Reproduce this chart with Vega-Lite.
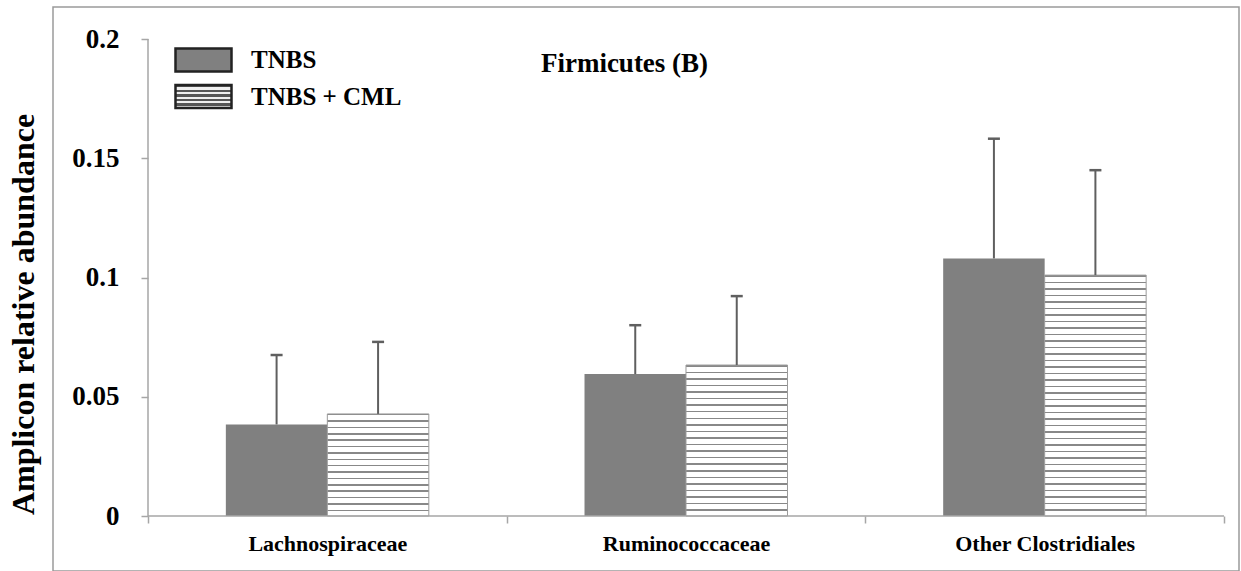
{
  "$schema": "https://vega.github.io/schema/vega-lite/v6.json",
  "width": 1186,
  "height": 564,
  "autosize": {"type": "none"},
  "padding": {"left": 53, "top": 7, "right": 2, "bottom": 0},
  "background": "#ffffff",
  "title": {
    "text": "Firmicutes (B)",
    "font": "Liberation Serif",
    "fontWeight": "bold",
    "fontSize": 27,
    "color": "#000000",
    "anchor": "middle",
    "baseline": "alphabetic",
    "offset": 0,
    "dx": -21.5,
    "dy": 92
  },
  "data": {
    "values": [
      {"cat": "Lachnospiraceae", "group": "TNBS", "value": 0.0384, "hi": 0.0675},
      {"cat": "Lachnospiraceae", "group": "TNBS + CML", "value": 0.0428, "hi": 0.0730},
      {"cat": "Ruminococcaceae", "group": "TNBS", "value": 0.0595, "hi": 0.0800},
      {"cat": "Ruminococcaceae", "group": "TNBS + CML", "value": 0.0633, "hi": 0.0922},
      {"cat": "Other Clostridiales", "group": "TNBS", "value": 0.1080, "hi": 0.1582},
      {"cat": "Other Clostridiales", "group": "TNBS + CML", "value": 0.1010, "hi": 0.1450}
    ]
  },
  "layer": [
    {
      "mark": {"type": "bar"},
      "encoding": {
        "x": {
          "field": "cat",
          "type": "nominal",
          "sort": ["Lachnospiraceae", "Ruminococcaceae", "Other Clostridiales"],
          "scale": {
            "domain": ["Lachnospiraceae", "Ruminococcaceae", "Other Clostridiales"],
            "paddingInner": 0,
            "paddingOuter": 0.15335,
            "align": 0.8636
          },
          "axis": {
            "title": null,
            "offset": -55,
            "domain": false,
            "labelAngle": 0,
            "labelLimit": 0,
            "labelFont": "Liberation Serif",
            "labelFontWeight": "bold",
            "labelFontSize": 22,
            "labelColor": "#000000",
            "labelPadding": 10,
            "tickBand": "extent",
            "tickSize": 7,
            "tickColor": "#a6a6a6",
            "tickWidth": 1.5
          }
        },
        "xOffset": {
          "field": "group",
          "type": "nominal",
          "sort": ["TNBS", "TNBS + CML"],
          "scale": {"paddingInner": 0, "paddingOuter": 0.767}
        },
        "y": {
          "field": "value",
          "type": "quantitative",
          "scale": {"domain": [-0.02306, 0.21342], "nice": false, "zero": false},
          "axis": {
            "values": [0, 0.05, 0.1, 0.15, 0.2],
            "format": "~g",
            "grid": false,
            "offset": -95,
            "domain": false,
            "title": "Amplicon relative abundance",
            "titleFont": "Liberation Serif",
            "titleFontWeight": "bold",
            "titleFontSize": 32,
            "titleColor": "#000000",
            "titleAngle": -90,
            "titleX": -115,
            "titleY": 307,
            "titleAlign": "center",
            "titleBaseline": "alphabetic",
            "labelFont": "Liberation Serif",
            "labelFontWeight": "bold",
            "labelFontSize": 27,
            "labelColor": "#000000",
            "labelPadding": 22,
            "tickSize": 7,
            "tickColor": "#a6a6a6",
            "tickWidth": 1.5
          }
        },
        "fill": {
          "condition": [
            {
              "test": "datum.group === 'TNBS + CML' && datum.cat === 'Lachnospiraceae'",
              "value": {
                "gradient": "linear", "x1": 0, "y1": 0, "x2": 0, "y2": 1,
                "stops": [
                  {"offset": 0, "color": "#888888"}, {"offset": 0.015, "color": "#888888"}, {"offset": 0.015, "color": "#ffffff"}, {"offset": 0.0625, "color": "#ffffff"},
                  {"offset": 0.0625, "color": "#888888"}, {"offset": 0.0775, "color": "#888888"}, {"offset": 0.0775, "color": "#ffffff"}, {"offset": 0.125, "color": "#ffffff"},
                  {"offset": 0.125, "color": "#888888"}, {"offset": 0.14, "color": "#888888"}, {"offset": 0.14, "color": "#ffffff"}, {"offset": 0.1875, "color": "#ffffff"},
                  {"offset": 0.1875, "color": "#888888"}, {"offset": 0.2025, "color": "#888888"}, {"offset": 0.2025, "color": "#ffffff"}, {"offset": 0.25, "color": "#ffffff"},
                  {"offset": 0.25, "color": "#888888"}, {"offset": 0.265, "color": "#888888"}, {"offset": 0.265, "color": "#ffffff"}, {"offset": 0.3125, "color": "#ffffff"},
                  {"offset": 0.3125, "color": "#888888"}, {"offset": 0.3275, "color": "#888888"}, {"offset": 0.3275, "color": "#ffffff"}, {"offset": 0.375, "color": "#ffffff"},
                  {"offset": 0.375, "color": "#888888"}, {"offset": 0.39, "color": "#888888"}, {"offset": 0.39, "color": "#ffffff"}, {"offset": 0.4375, "color": "#ffffff"},
                  {"offset": 0.4375, "color": "#888888"}, {"offset": 0.4525, "color": "#888888"}, {"offset": 0.4525, "color": "#ffffff"}, {"offset": 0.5, "color": "#ffffff"},
                  {"offset": 0.5, "color": "#888888"}, {"offset": 0.515, "color": "#888888"}, {"offset": 0.515, "color": "#ffffff"}, {"offset": 0.5625, "color": "#ffffff"},
                  {"offset": 0.5625, "color": "#888888"}, {"offset": 0.5775, "color": "#888888"}, {"offset": 0.5775, "color": "#ffffff"}, {"offset": 0.625, "color": "#ffffff"},
                  {"offset": 0.625, "color": "#888888"}, {"offset": 0.64, "color": "#888888"}, {"offset": 0.64, "color": "#ffffff"}, {"offset": 0.6875, "color": "#ffffff"},
                  {"offset": 0.6875, "color": "#888888"}, {"offset": 0.7025, "color": "#888888"}, {"offset": 0.7025, "color": "#ffffff"}, {"offset": 0.75, "color": "#ffffff"},
                  {"offset": 0.75, "color": "#888888"}, {"offset": 0.765, "color": "#888888"}, {"offset": 0.765, "color": "#ffffff"}, {"offset": 0.8125, "color": "#ffffff"},
                  {"offset": 0.8125, "color": "#888888"}, {"offset": 0.8275, "color": "#888888"}, {"offset": 0.8275, "color": "#ffffff"}, {"offset": 0.875, "color": "#ffffff"},
                  {"offset": 0.875, "color": "#888888"}, {"offset": 0.89, "color": "#888888"}, {"offset": 0.89, "color": "#ffffff"}, {"offset": 0.9375, "color": "#ffffff"},
                  {"offset": 0.9375, "color": "#888888"}, {"offset": 0.9525, "color": "#888888"}, {"offset": 0.9525, "color": "#ffffff"}, {"offset": 1, "color": "#ffffff"}
                ]
              }
            },
            {
              "test": "datum.group === 'TNBS + CML' && datum.cat === 'Ruminococcaceae'",
              "value": {
                "gradient": "linear", "x1": 0, "y1": 0, "x2": 0, "y2": 1,
                "stops": [
                  {"offset": 0, "color": "#888888"}, {"offset": 0.01, "color": "#888888"}, {"offset": 0.01, "color": "#ffffff"}, {"offset": 0.0435, "color": "#ffffff"},
                  {"offset": 0.0435, "color": "#888888"}, {"offset": 0.0535, "color": "#888888"}, {"offset": 0.0535, "color": "#ffffff"}, {"offset": 0.087, "color": "#ffffff"},
                  {"offset": 0.087, "color": "#888888"}, {"offset": 0.097, "color": "#888888"}, {"offset": 0.097, "color": "#ffffff"}, {"offset": 0.1304, "color": "#ffffff"},
                  {"offset": 0.1304, "color": "#888888"}, {"offset": 0.1404, "color": "#888888"}, {"offset": 0.1404, "color": "#ffffff"}, {"offset": 0.1739, "color": "#ffffff"},
                  {"offset": 0.1739, "color": "#888888"}, {"offset": 0.1839, "color": "#888888"}, {"offset": 0.1839, "color": "#ffffff"}, {"offset": 0.2174, "color": "#ffffff"},
                  {"offset": 0.2174, "color": "#888888"}, {"offset": 0.2274, "color": "#888888"}, {"offset": 0.2274, "color": "#ffffff"}, {"offset": 0.2609, "color": "#ffffff"},
                  {"offset": 0.2609, "color": "#888888"}, {"offset": 0.2709, "color": "#888888"}, {"offset": 0.2709, "color": "#ffffff"}, {"offset": 0.3043, "color": "#ffffff"},
                  {"offset": 0.3043, "color": "#888888"}, {"offset": 0.3143, "color": "#888888"}, {"offset": 0.3143, "color": "#ffffff"}, {"offset": 0.3478, "color": "#ffffff"},
                  {"offset": 0.3478, "color": "#888888"}, {"offset": 0.3578, "color": "#888888"}, {"offset": 0.3578, "color": "#ffffff"}, {"offset": 0.3913, "color": "#ffffff"},
                  {"offset": 0.3913, "color": "#888888"}, {"offset": 0.4013, "color": "#888888"}, {"offset": 0.4013, "color": "#ffffff"}, {"offset": 0.4348, "color": "#ffffff"},
                  {"offset": 0.4348, "color": "#888888"}, {"offset": 0.4448, "color": "#888888"}, {"offset": 0.4448, "color": "#ffffff"}, {"offset": 0.4783, "color": "#ffffff"},
                  {"offset": 0.4783, "color": "#888888"}, {"offset": 0.4883, "color": "#888888"}, {"offset": 0.4883, "color": "#ffffff"}, {"offset": 0.5217, "color": "#ffffff"},
                  {"offset": 0.5217, "color": "#888888"}, {"offset": 0.5317, "color": "#888888"}, {"offset": 0.5317, "color": "#ffffff"}, {"offset": 0.5652, "color": "#ffffff"},
                  {"offset": 0.5652, "color": "#888888"}, {"offset": 0.5752, "color": "#888888"}, {"offset": 0.5752, "color": "#ffffff"}, {"offset": 0.6087, "color": "#ffffff"},
                  {"offset": 0.6087, "color": "#888888"}, {"offset": 0.6187, "color": "#888888"}, {"offset": 0.6187, "color": "#ffffff"}, {"offset": 0.6522, "color": "#ffffff"},
                  {"offset": 0.6522, "color": "#888888"}, {"offset": 0.6622, "color": "#888888"}, {"offset": 0.6622, "color": "#ffffff"}, {"offset": 0.6957, "color": "#ffffff"},
                  {"offset": 0.6957, "color": "#888888"}, {"offset": 0.7057, "color": "#888888"}, {"offset": 0.7057, "color": "#ffffff"}, {"offset": 0.7391, "color": "#ffffff"},
                  {"offset": 0.7391, "color": "#888888"}, {"offset": 0.7491, "color": "#888888"}, {"offset": 0.7491, "color": "#ffffff"}, {"offset": 0.7826, "color": "#ffffff"},
                  {"offset": 0.7826, "color": "#888888"}, {"offset": 0.7926, "color": "#888888"}, {"offset": 0.7926, "color": "#ffffff"}, {"offset": 0.8261, "color": "#ffffff"},
                  {"offset": 0.8261, "color": "#888888"}, {"offset": 0.8361, "color": "#888888"}, {"offset": 0.8361, "color": "#ffffff"}, {"offset": 0.8696, "color": "#ffffff"},
                  {"offset": 0.8696, "color": "#888888"}, {"offset": 0.8796, "color": "#888888"}, {"offset": 0.8796, "color": "#ffffff"}, {"offset": 0.913, "color": "#ffffff"},
                  {"offset": 0.913, "color": "#888888"}, {"offset": 0.923, "color": "#888888"}, {"offset": 0.923, "color": "#ffffff"}, {"offset": 0.9565, "color": "#ffffff"},
                  {"offset": 0.9565, "color": "#888888"}, {"offset": 0.9665, "color": "#888888"}, {"offset": 0.9665, "color": "#ffffff"}, {"offset": 1, "color": "#ffffff"}
                ]
              }
            },
            {
              "test": "datum.group === 'TNBS + CML' && datum.cat === 'Other Clostridiales'",
              "value": {
                "gradient": "linear", "x1": 0, "y1": 0, "x2": 0, "y2": 1,
                "stops": [
                  {"offset": 0, "color": "#888888"}, {"offset": 0.0062, "color": "#888888"}, {"offset": 0.0062, "color": "#ffffff"}, {"offset": 0.027, "color": "#ffffff"},
                  {"offset": 0.027, "color": "#888888"}, {"offset": 0.0332, "color": "#888888"}, {"offset": 0.0332, "color": "#ffffff"}, {"offset": 0.0541, "color": "#ffffff"},
                  {"offset": 0.0541, "color": "#888888"}, {"offset": 0.0603, "color": "#888888"}, {"offset": 0.0603, "color": "#ffffff"}, {"offset": 0.0811, "color": "#ffffff"},
                  {"offset": 0.0811, "color": "#888888"}, {"offset": 0.0873, "color": "#888888"}, {"offset": 0.0873, "color": "#ffffff"}, {"offset": 0.1081, "color": "#ffffff"},
                  {"offset": 0.1081, "color": "#888888"}, {"offset": 0.1143, "color": "#888888"}, {"offset": 0.1143, "color": "#ffffff"}, {"offset": 0.1351, "color": "#ffffff"},
                  {"offset": 0.1351, "color": "#888888"}, {"offset": 0.1413, "color": "#888888"}, {"offset": 0.1413, "color": "#ffffff"}, {"offset": 0.1622, "color": "#ffffff"},
                  {"offset": 0.1622, "color": "#888888"}, {"offset": 0.1684, "color": "#888888"}, {"offset": 0.1684, "color": "#ffffff"}, {"offset": 0.1892, "color": "#ffffff"},
                  {"offset": 0.1892, "color": "#888888"}, {"offset": 0.1954, "color": "#888888"}, {"offset": 0.1954, "color": "#ffffff"}, {"offset": 0.2162, "color": "#ffffff"},
                  {"offset": 0.2162, "color": "#888888"}, {"offset": 0.2224, "color": "#888888"}, {"offset": 0.2224, "color": "#ffffff"}, {"offset": 0.2432, "color": "#ffffff"},
                  {"offset": 0.2432, "color": "#888888"}, {"offset": 0.2494, "color": "#888888"}, {"offset": 0.2494, "color": "#ffffff"}, {"offset": 0.2703, "color": "#ffffff"},
                  {"offset": 0.2703, "color": "#888888"}, {"offset": 0.2765, "color": "#888888"}, {"offset": 0.2765, "color": "#ffffff"}, {"offset": 0.2973, "color": "#ffffff"},
                  {"offset": 0.2973, "color": "#888888"}, {"offset": 0.3035, "color": "#888888"}, {"offset": 0.3035, "color": "#ffffff"}, {"offset": 0.3243, "color": "#ffffff"},
                  {"offset": 0.3243, "color": "#888888"}, {"offset": 0.3305, "color": "#888888"}, {"offset": 0.3305, "color": "#ffffff"}, {"offset": 0.3514, "color": "#ffffff"},
                  {"offset": 0.3514, "color": "#888888"}, {"offset": 0.3576, "color": "#888888"}, {"offset": 0.3576, "color": "#ffffff"}, {"offset": 0.3784, "color": "#ffffff"},
                  {"offset": 0.3784, "color": "#888888"}, {"offset": 0.3846, "color": "#888888"}, {"offset": 0.3846, "color": "#ffffff"}, {"offset": 0.4054, "color": "#ffffff"},
                  {"offset": 0.4054, "color": "#888888"}, {"offset": 0.4116, "color": "#888888"}, {"offset": 0.4116, "color": "#ffffff"}, {"offset": 0.4324, "color": "#ffffff"},
                  {"offset": 0.4324, "color": "#888888"}, {"offset": 0.4386, "color": "#888888"}, {"offset": 0.4386, "color": "#ffffff"}, {"offset": 0.4595, "color": "#ffffff"},
                  {"offset": 0.4595, "color": "#888888"}, {"offset": 0.4657, "color": "#888888"}, {"offset": 0.4657, "color": "#ffffff"}, {"offset": 0.4865, "color": "#ffffff"},
                  {"offset": 0.4865, "color": "#888888"}, {"offset": 0.4927, "color": "#888888"}, {"offset": 0.4927, "color": "#ffffff"}, {"offset": 0.5135, "color": "#ffffff"},
                  {"offset": 0.5135, "color": "#888888"}, {"offset": 0.5197, "color": "#888888"}, {"offset": 0.5197, "color": "#ffffff"}, {"offset": 0.5405, "color": "#ffffff"},
                  {"offset": 0.5405, "color": "#888888"}, {"offset": 0.5467, "color": "#888888"}, {"offset": 0.5467, "color": "#ffffff"}, {"offset": 0.5676, "color": "#ffffff"},
                  {"offset": 0.5676, "color": "#888888"}, {"offset": 0.5738, "color": "#888888"}, {"offset": 0.5738, "color": "#ffffff"}, {"offset": 0.5946, "color": "#ffffff"},
                  {"offset": 0.5946, "color": "#888888"}, {"offset": 0.6008, "color": "#888888"}, {"offset": 0.6008, "color": "#ffffff"}, {"offset": 0.6216, "color": "#ffffff"},
                  {"offset": 0.6216, "color": "#888888"}, {"offset": 0.6278, "color": "#888888"}, {"offset": 0.6278, "color": "#ffffff"}, {"offset": 0.6486, "color": "#ffffff"},
                  {"offset": 0.6486, "color": "#888888"}, {"offset": 0.6548, "color": "#888888"}, {"offset": 0.6548, "color": "#ffffff"}, {"offset": 0.6757, "color": "#ffffff"},
                  {"offset": 0.6757, "color": "#888888"}, {"offset": 0.6819, "color": "#888888"}, {"offset": 0.6819, "color": "#ffffff"}, {"offset": 0.7027, "color": "#ffffff"},
                  {"offset": 0.7027, "color": "#888888"}, {"offset": 0.7089, "color": "#888888"}, {"offset": 0.7089, "color": "#ffffff"}, {"offset": 0.7297, "color": "#ffffff"},
                  {"offset": 0.7297, "color": "#888888"}, {"offset": 0.7359, "color": "#888888"}, {"offset": 0.7359, "color": "#ffffff"}, {"offset": 0.7568, "color": "#ffffff"},
                  {"offset": 0.7568, "color": "#888888"}, {"offset": 0.763, "color": "#888888"}, {"offset": 0.763, "color": "#ffffff"}, {"offset": 0.7838, "color": "#ffffff"},
                  {"offset": 0.7838, "color": "#888888"}, {"offset": 0.79, "color": "#888888"}, {"offset": 0.79, "color": "#ffffff"}, {"offset": 0.8108, "color": "#ffffff"},
                  {"offset": 0.8108, "color": "#888888"}, {"offset": 0.817, "color": "#888888"}, {"offset": 0.817, "color": "#ffffff"}, {"offset": 0.8378, "color": "#ffffff"},
                  {"offset": 0.8378, "color": "#888888"}, {"offset": 0.844, "color": "#888888"}, {"offset": 0.844, "color": "#ffffff"}, {"offset": 0.8649, "color": "#ffffff"},
                  {"offset": 0.8649, "color": "#888888"}, {"offset": 0.8711, "color": "#888888"}, {"offset": 0.8711, "color": "#ffffff"}, {"offset": 0.8919, "color": "#ffffff"},
                  {"offset": 0.8919, "color": "#888888"}, {"offset": 0.8981, "color": "#888888"}, {"offset": 0.8981, "color": "#ffffff"}, {"offset": 0.9189, "color": "#ffffff"},
                  {"offset": 0.9189, "color": "#888888"}, {"offset": 0.9251, "color": "#888888"}, {"offset": 0.9251, "color": "#ffffff"}, {"offset": 0.9459, "color": "#ffffff"},
                  {"offset": 0.9459, "color": "#888888"}, {"offset": 0.9521, "color": "#888888"}, {"offset": 0.9521, "color": "#ffffff"}, {"offset": 0.973, "color": "#ffffff"},
                  {"offset": 0.973, "color": "#888888"}, {"offset": 0.9792, "color": "#888888"}, {"offset": 0.9792, "color": "#ffffff"}, {"offset": 1, "color": "#ffffff"}
                ]
              }
            }
          ],
          "field": "group",
          "type": "nominal",
          "scale": {
            "domain": ["TNBS", "TNBS + CML"],
            "range": [
              "#808080",
              {"expr": "{gradient: 'linear', x1: 0, y1: 0, x2: 0, y2: 1, stops: [{offset: 0, color: '#555555'}, {offset: 0.1, color: '#555555'}, {offset: 0.1, color: '#eeeeee'}, {offset: 0.2, color: '#eeeeee'}, {offset: 0.2, color: '#555555'}, {offset: 0.3, color: '#555555'}, {offset: 0.3, color: '#eeeeee'}, {offset: 0.4, color: '#eeeeee'}, {offset: 0.4, color: '#555555'}, {offset: 0.5, color: '#555555'}, {offset: 0.5, color: '#eeeeee'}, {offset: 0.6, color: '#eeeeee'}, {offset: 0.6, color: '#555555'}, {offset: 0.7, color: '#555555'}, {offset: 0.7, color: '#eeeeee'}, {offset: 0.8, color: '#eeeeee'}, {offset: 0.8, color: '#555555'}, {offset: 0.9, color: '#555555'}, {offset: 0.9, color: '#eeeeee'}, {offset: 1, color: '#eeeeee'}]}"}
            ]
          },
          "legend": {
            "title": null,
            "orient": "none",
            "legendX": 135,
            "legendY": 37.5,
            "padding": 0,
            "symbolType": "M-2,-0.82H2V0.82H-2Z",
            "symbolSize": 784,
            "symbolStrokeWidth": 2.5,
            "symbolStrokeColor": "#222222",
            "symbolOpacity": 1,
            "rowPadding": 3.5,
            "labelOffset": 32,
            "labelLimit": 0,
            "labelFont": "Liberation Serif",
            "labelFontWeight": "bold",
            "labelFontSize": 25,
            "labelColor": "#000000"
          }
        }
      }
    },
    {
      "transform": [{"filter": "datum.group === 'TNBS + CML'"}],
      "mark": {"type": "bar", "fillOpacity": 0, "stroke": "#9a9a9a", "strokeWidth": 1},
      "encoding": {
        "x": {"field": "cat", "type": "nominal"},
        "xOffset": {"field": "group", "type": "nominal"},
        "y": {"field": "value", "type": "quantitative"}
      }
    },
    {
      "mark": {"type": "rule", "color": "#5f5f5f", "strokeWidth": 2},
      "encoding": {
        "x": {"field": "cat", "type": "nominal"},
        "xOffset": {"field": "group", "type": "nominal"},
        "y": {"field": "value", "type": "quantitative"},
        "y2": {"field": "hi"}
      }
    },
    {
      "mark": {"type": "tick", "orient": "horizontal", "size": 12, "thickness": 2.5, "color": "#5f5f5f", "opacity": 1},
      "encoding": {
        "x": {"field": "cat", "type": "nominal"},
        "xOffset": {"field": "group", "type": "nominal"},
        "y": {"field": "hi", "type": "quantitative"}
      }
    },
    {
      "data": {"values": [{}]},
      "mark": {"type": "rule", "color": "#a6a6a6", "strokeWidth": 1.5},
      "encoding": {
        "x": {"datum": "Lachnospiraceae", "type": "nominal", "bandPosition": 0},
        "y": {"datum": 0, "type": "quantitative"},
        "y2": {"datum": 0.2}
      }
    },
    {
      "data": {"values": [{}]},
      "mark": {"type": "rule", "color": "#a6a6a6", "strokeWidth": 1.5},
      "encoding": {
        "x": {"datum": "Lachnospiraceae", "type": "nominal", "bandPosition": 0},
        "x2": {"datum": "Other Clostridiales", "bandPosition": 1},
        "y": {"datum": 0, "type": "quantitative"}
      }
    }
  ],
  "config": {
    "view": {"stroke": "#9a9a9a", "strokeWidth": 1.5}
  }
}
